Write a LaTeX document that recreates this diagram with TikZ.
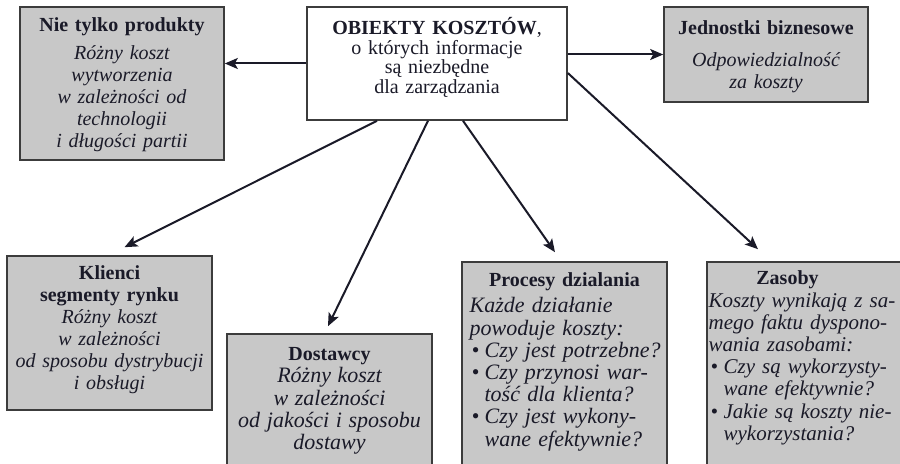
\documentclass[tikz,border=0pt]{standalone}
\usepackage{fontspec}
\setmainfont{Liberation Serif}
\usetikzlibrary{arrows.meta,positioning}
\definecolor{cInk}{HTML}{1A1A28}
\definecolor{cBox}{HTML}{C8C8C8}
\definecolor{cEdge}{HTML}{3C3C3C}
\newcommand{\px}{0.5pt}
\newcommand{\bul}{\makebox[7.5pt][l]{\hspace{1pt}\textbullet}}
\newcommand{\cont}{\hspace*{7.5pt}}
\tikzset{
  box/.style={draw=cEdge, line width=0.8pt, fill=cBox, inner sep=0pt},
  objbox/.style={box, fill=white},
  txt/.style={font=\fontsize{10}{11}\selectfont, text=cInk, inner sep=0pt,
              align=center, text width=196*\px},
  headtxt/.style={txt, font=\fontsize{10}{11}\selectfont\bfseries},
  body/.style={txt, align=left, text width=200*\px, font=\fontsize{11}{11.1}\selectfont\itshape},
  arr/.style={-{Stealth[length=6.5pt, width=5.5pt, inset=1.5pt]}, line width=1pt, cInk}
}
\begin{document}
\begin{tikzpicture}[x=0.5pt, y=-0.5pt]
\useasboundingbox (0,0) rectangle (900,464);
\fill[white] (0,0) rectangle (900,464);
\begin{scope}
\clip (0,0) rectangle (900,464);
% boxes (bottom row runs off the page)
\node[objbox, minimum width=260*\px, minimum height=113*\px] (obj) at (437,63.5) {};
\node[box, minimum width=204*\px, minimum height=153*\px] (prod) at (122,83.5) {};
\node[box, minimum width=204*\px, minimum height=95*\px] (jedn) at (766,54.5) {};
\node[box, minimum width=205*\px, minimum height=154*\px] (klien) at (109.5,333) {};
\node[box, minimum width=205*\px, minimum height=146*\px] (dost) at (329.5,407) {};
\node[box, minimum width=205*\px, minimum height=218*\px] (proc) at (564.5,371) {};
\node[box, minimum width=205*\px, minimum height=218*\px] (zas) at (809.5,371) {};
% texts
\node[txt, anchor=north, text width=250*\px, font=\fontsize{10}{9.8}\selectfont]
  (objtxt) at ([yshift=-11*\px]obj.north)
  {\textbf{OBIEKTY KOSZTÓW},\\ o których informacje\\ są niezbędne\\ dla zarządzania};
\node[txt, anchor=north] (prodtxt) at ([yshift=-11*\px]prod.north)
  {{\bfseries Nie tylko produkty}\\[3pt] \itshape Różny koszt\\ wytworzenia\\
   w zależności od\\ technologii\\ i długości partii};
\node[txt, anchor=north] (jedntxt) at ([yshift=-14*\px]jedn.north)
  {{\bfseries Jednostki biznesowe}\\[5pt] \itshape Odpowiedzialność\\ za koszty};
\node[txt, anchor=north] (klientxt) at ([yshift=-10*\px]klien.north)
  {{\bfseries Klienci\\ segmenty rynku}\\ \itshape Różny koszt\\ w zależności\\
   od sposobu dystrybucji\\ i obsługi};
\node[txt, anchor=north] (dosttxt) at ([yshift=-14*\px]dost.north)
  {{\bfseries Dostawcy}\\ \fontsize{11}{11.1}\selectfont\itshape Różny koszt\\ w zależności\\
   od jakości i sposobu\\ dostawy};
\node[headtxt, anchor=north] (prochead) at ([yshift=-11*\px]proc.north) {Procesy dzialania};
\node[body, anchor=north west] (procbody) at ([xshift=8*\px, yshift=-36*\px]proc.north west)
  {Każde działanie\\ powoduje koszty:\\ \bul Czy jest potrzebne?\\
   \bul Czy przynosi war-\\ \cont tość dla klienta?\\
   \bul Czy jest wykony-\\ \cont wane efektywnie?};
\node[headtxt, anchor=north] (zashead) at ([xshift=-22*\px, yshift=-9*\px]zas.north) {Zasoby};
\node[body, anchor=north west, font=\fontsize{10.5}{11.1}\selectfont\itshape] (zasbody)
  at ([xshift=2*\px, yshift=-31*\px]zas.north west)
  {Koszty wynikają z sa-\\ mego faktu dyspono-\\ wania zasobami:\\
   \bul Czy są wykorzysty-\\ \cont wane efektywnie?\\
   \bul Jakie są koszty nie-\\ \cont wykorzystania?};
% connectors
\draw[arr] (obj.west) -- (obj.west -| prod.east);
\draw[arr] (obj.east |- jedn.west) -- (jedn.west);
\draw[arr] ([xshift=-60*\px]obj.south) -- ([xshift=15*\px, yshift=8*\px]klien.north);
\draw[arr] ([xshift=-9*\px]obj.south) -- ([xshift=-1.5*\px, yshift=7*\px]dost.north);
\draw[arr] ([xshift=26*\px]obj.south) -- ([xshift=-9.5*\px, yshift=9*\px]proc.north);
\draw[arr] ([yshift=-9.5*\px]obj.east) -- ([xshift=-51.5*\px, yshift=12*\px]zas.north);
\end{scope}
\end{tikzpicture}
\end{document}
